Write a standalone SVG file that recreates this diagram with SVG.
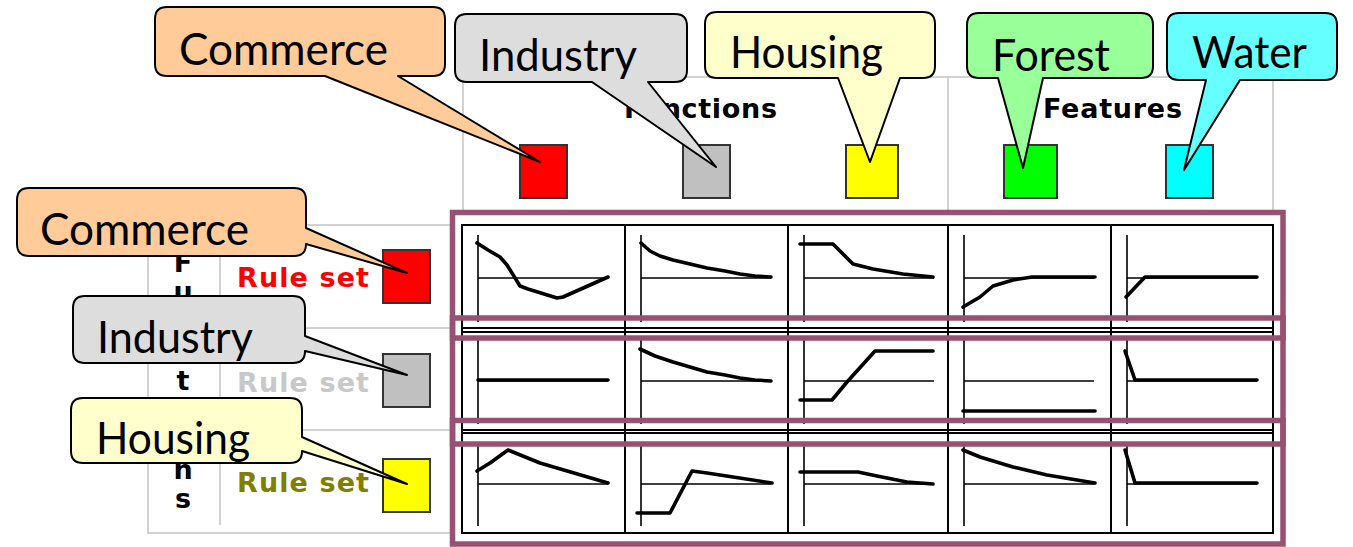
<svg xmlns="http://www.w3.org/2000/svg" width="1353" height="547" viewBox="0 0 1353 547">
<style>
.ui{font-family:"DejaVu Sans",Verdana,sans-serif;font-weight:bold;font-size:27px}
.co{font-family:Lato,"Liberation Sans",sans-serif;font-size:44px;fill:#000}
.frame{fill:none;stroke:#d2d2d2;stroke-width:2}
.grid{fill:none;stroke:#000;stroke-width:2}
.axis{fill:none;stroke:#000;stroke-width:1.6}
.curve{fill:none;stroke:#000;stroke-width:3.6;stroke-linejoin:round;stroke-linecap:round}
.band{fill:none;stroke:#985172;stroke-width:5.5}
.swatch{stroke:#333;stroke-width:2}
.callout{stroke:#000;stroke-width:2;stroke-linejoin:round}
</style>
<rect width="1353" height="547" fill="#fff"/>

<!-- light window frames behind the matrix -->
<g id="frames">
  <path class="frame" d="M463,215 V77 H1273 V215 M948,77 V215"/>
  <path class="frame" d="M450,225 H148 V533 H450 M148,328 H450 M148,430 H450 M220,225 V525"/>
</g>

<!-- column headings -->
<g id="headings" class="ui" fill="#000">
  <text x="624" y="118" textLength="153" lengthAdjust="spacing">Functions</text>
  <text x="1043" y="118" textLength="139" lengthAdjust="spacing">Features</text>
</g>

<!-- column swatches -->
<g id="col-swatches" class="swatch">
  <rect id="col-commerce" x="520" y="145" width="47" height="53" fill="#ff0000"/>
  <rect id="col-industry" x="683" y="145" width="47" height="53" fill="#c0c0c0"/>
  <rect id="col-housing" x="846" y="145" width="52" height="53" fill="#ffff00"/>
  <rect id="col-forest" x="1004" y="145" width="53" height="53" fill="#00ff00"/>
  <rect id="col-water" x="1166" y="145" width="47" height="53" fill="#00ffff"/>
</g>

<!-- row heading, written top to bottom (letters between the callouts) -->
<g id="row-labels" class="ui" text-anchor="middle" fill="#000">
  <text x="183" y="272">F</text>
  <text x="183" y="301">u</text>
  <text x="183" y="390">t</text>
  <text x="183" y="479">n</text>
  <text x="183" y="508">s</text>
</g>
<g id="rule-sets" class="ui">
  <text x="237" y="287" fill="#ff0000" textLength="132" lengthAdjust="spacing">Rule set</text>
  <text x="237" y="392" fill="#c8c8c8" textLength="132" lengthAdjust="spacing">Rule set</text>
  <text x="237" y="492" fill="#808000" textLength="132" lengthAdjust="spacing">Rule set</text>
</g>
<g id="row-swatches" class="swatch">
  <rect id="row-commerce" x="383" y="250" width="47" height="53" fill="#ff0000"/>
  <rect id="row-industry" x="383" y="354" width="47" height="53" fill="#c0c0c0"/>
  <rect id="row-housing" x="383" y="459" width="47" height="53" fill="#ffff00"/>
</g>

<!-- response-curve matrix -->
<g id="matrix">
  <rect class="grid" x="462" y="225" width="811" height="308"/>
  <path class="grid" d="M462,328 H1273 M462,332 H1273 M462,430 H1273 M462,433 H1273 M625,225 V533 M788,225 V533 M948,225 V533 M1111,225 V533"/>
  <!-- axes: row 1 -->
  <path class="axis" d="M478,235 V322 M478,278 H608 M641,235 V322 M641,278 H771 M804,235 V322 M804,278 H934 M964,235 V322 M964,278 H1094 M1127,235 V322 M1127,278 H1257"/>
  <!-- axes: row 2 -->
  <path class="axis" d="M478,339 V424 M478,381 H608 M641,339 V424 M641,381 H771 M804,339 V424 M804,381 H934 M964,339 V424 M964,381 H1094 M1127,339 V424 M1127,381 H1257"/>
  <!-- axes: row 3 -->
  <path class="axis" d="M478,442 V526 M478,484 H608 M641,442 V526 M641,484 H771 M804,442 V526 M804,484 H934 M964,442 V526 M964,484 H1094 M1127,442 V526 M1127,484 H1257"/>

  <g id="curves-commerce">
    <polyline class="curve" points="477,243 488,250 500,257 507,265 520,286 528,289 557,298 563,297 608,277"/>
    <polyline class="curve" points="641,243 650,251 660,256 673,260 690,264 707,268 725,271 740,274 755,276 771,277"/>
    <polyline class="curve" points="800,244 833,244 853,264 873,269 903,274 933,277"/>
    <polyline class="curve" points="963,307 980,297 993,286 1013,280 1032,277 1095,277"/>
    <polyline class="curve" points="1126,297 1145,277 1257,277"/>
  </g>
  <g id="curves-industry">
    <polyline class="curve" points="478,380 608,380"/>
    <polyline class="curve" points="640,349 655,356 673,362 690,367 707,372 725,375 740,378 755,380 771,381"/>
    <polyline class="curve" points="800,400 832,400 847,382 875,351 933,351"/>
    <polyline class="curve" points="963,411 1095,411"/>
    <polyline class="curve" points="1125,351 1135,380 1257,380"/>
  </g>
  <g id="curves-housing">
    <polyline class="curve" points="477,471 490,463 508,450 540,463 608,483"/>
    <polyline class="curve" points="637,513 670,513 692,471 707,473 733,477 772,483"/>
    <polyline class="curve" points="800,472 858,472 877,476 907,482 933,484"/>
    <polyline class="curve" points="963,450 980,457 1013,467 1047,475 1095,483"/>
    <polyline class="curve" points="1125,450 1135,483 1257,483"/>
  </g>
</g>

<!-- row highlight frames -->
<g id="row-frames">
  <rect class="band" x="452.5" y="212.5" width="830.5" height="125.5"/>
  <rect class="band" x="452.5" y="318" width="830.5" height="126"/>
  <rect class="band" x="452.5" y="420.5" width="830.5" height="123.5"/>
</g>

<!-- callouts -->
<g id="callout-top-commerce">
  <path class="callout" fill="#ffcc99" d="M167,7 H433 Q445,7 445,19 V64 Q445,76 433,76 H398 L540,162 L325,76 H167 Q155,76 155,64 V19 Q155,7 167,7 Z"/>
  <text class="co" x="179" y="65" textLength="209" lengthAdjust="spacingAndGlyphs">Commerce</text>
</g>
<g id="callout-top-industry">
  <path class="callout" fill="#dddddd" d="M467,14 H675 Q687,14 687,26 V70 Q687,82 675,82 H648 L716,167 L592,82 H467 Q455,82 455,70 V26 Q455,14 467,14 Z"/>
  <text class="co" x="479" y="71" textLength="158" lengthAdjust="spacingAndGlyphs">Industry</text>
</g>
<g id="callout-top-housing">
  <path class="callout" fill="#ffffcc" d="M717,12 H923 Q935,12 935,24 V66 Q935,78 923,78 H900 L870,162 L838,78 H717 Q705,78 705,66 V24 Q705,12 717,12 Z"/>
  <text class="co" x="730" y="68" textLength="153" lengthAdjust="spacingAndGlyphs">Housing</text>
</g>
<g id="callout-top-forest">
  <path class="callout" fill="#99ff99" d="M979,13 H1141 Q1153,13 1153,25 V66 Q1153,78 1141,78 H1043 L1023,168 L998,78 H979 Q967,78 967,66 V25 Q967,13 979,13 Z"/>
  <text class="co" x="992" y="71" textLength="118" lengthAdjust="spacingAndGlyphs">Forest</text>
</g>
<g id="callout-top-water">
  <path class="callout" fill="#66ffff" d="M1179,13 H1325 Q1337,13 1337,25 V68 Q1337,80 1325,80 H1240 L1184,170 L1206,80 H1179 Q1167,80 1167,68 V25 Q1167,13 1179,13 Z"/>
  <text class="co" x="1192" y="68" textLength="115" lengthAdjust="spacingAndGlyphs">Water</text>
</g>
<g id="callout-left-commerce">
  <path class="callout" fill="#ffcc99" d="M29,188 H294 Q306,188 306,200 V228 L407,273 L306,244 Q306,256 294,256 H29 Q17,256 17,244 V200 Q17,188 29,188 Z"/>
  <text class="co" x="40" y="245" textLength="209" lengthAdjust="spacingAndGlyphs">Commerce</text>
</g>
<g id="callout-left-industry">
  <path class="callout" fill="#dddddd" d="M85,296 H293 Q305,296 305,308 V336 L407,375 L305,351 Q305,363 293,363 H85 Q73,363 73,351 V308 Q73,296 85,296 Z"/>
  <text class="co" x="97" y="353" textLength="156" lengthAdjust="spacingAndGlyphs">Industry</text>
</g>
<g id="callout-left-housing">
  <path class="callout" fill="#ffffcc" d="M83,398 H290 Q302,398 302,410 V437 L407,484 L302,451 Q302,463 290,463 H83 Q71,463 71,451 V410 Q71,398 83,398 Z"/>
  <text class="co" x="96" y="454" textLength="154" lengthAdjust="spacingAndGlyphs">Housing</text>
</g>
</svg>
